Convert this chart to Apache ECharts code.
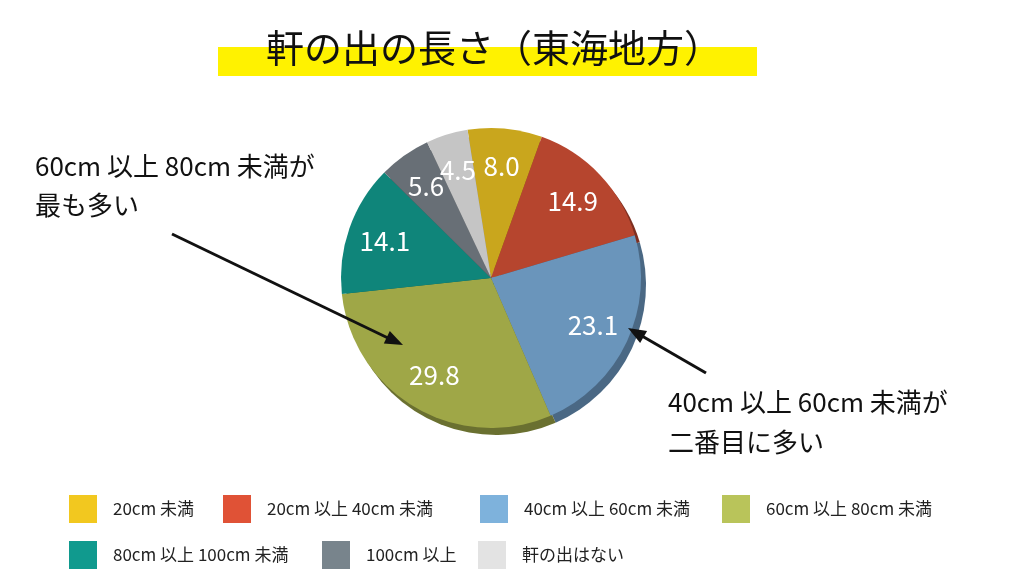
<!DOCTYPE html>
<html>
	<head>
		<meta charset="utf-8">
		<title>軒の出の長さ（東海地方）</title>
		<style>
			html,body{margin:0;padding:0;background:#fff;}
			#chart{width:1024px;height:586px;}
		</style>
	</head>
	<body>
		<div id="chart"></div>
		<script src="https://cdn.jsdelivr.net/npm/echarts@6/dist/echarts.min.js" type="text/javascript" charset="utf-8"></script>
		<script type="text/javascript">
			// データ
			var categories = ['20cm 未満','20cm 以上 40cm 未満','40cm 以上 60cm 未満','60cm 以上 80cm 未満','80cm 以上 100cm 未満','100cm 以上','軒の出はない'];
			var values = [8.0,14.9,23.1,29.8,14.1,5.6,4.5];
			var pieColors = ['#c9a61d','#b6452e','#6a95bb','#9fa747','#0f857a','#686f76','#c5c5c5'];
			var rimColors = ['#8a7214','#7d2f20','#4a6884','#6a7030','#0a5c54','#474c51','#8e8e8e'];
			var legendColors = ['#f2c81f','#e05236','#7eb2dc','#b9c45a','#109a8e','#78848c','#e3e3e3'];

			var FONT = '"Noto Sans CJK JP", sans-serif';
			var CENTER = [491,278], R = 150, START = 99;
			var myChart = echarts.init(document.getElementById('chart'));

			function buildData(colors){
				return categories.map(function(name,i){
					return {name:name,value:values[i],itemStyle:{color:colors[i]}};
				});
			}

			// ラベル位置（極座標：半径, 累積の中央）
			var total = values.reduce(function(a,b){return a + b;},0), acc = 0;
			var labelData = values.map(function(v){
				var mid = acc + v / 2;
				acc += v;
				return {value:[R * 0.75, mid], label:{formatter:v.toFixed(1)}};
			});

			// 凡例（2段）
			var legendPos = [[69,495],[223,495],[480,495],[722,495],[69,541],[322,541],[478,541]];
			var legends = categories.map(function(name,i){
				return {
					left: legendPos[i][0],
					top: legendPos[i][1],
					padding: 0,
					itemWidth: 28,
					itemHeight: 28,
					icon: 'rect',
					selectedMode: false,
					textStyle: {fontFamily:FONT,fontSize:17,color:'#222',padding:[0,0,0,11]},
					data: [{name:name,itemStyle:{color:legendColors[i]}}]
				};
			});

			var option = {
				backgroundColor: '#fff',
				animation: false,
				title: {
					text: '軒の出の長さ（東海地方）',
					left: 489,
					textAlign: 'center',
					top: 24,
					textStyle: {fontFamily:FONT,fontSize:38,fontWeight:'normal',color:'#111'}
				},
				legend: legends,
				polar: {center:CENTER,radius:R},
				angleAxis: {type:'value',min:0,max:total,startAngle:START,clockwise:true,show:false},
				radiusAxis: {type:'value',min:0,max:R,show:false},
				graphic: [
					{type:'rect',z:-1,shape:{x:218,y:47,width:539,height:29},style:{fill:'#fff200'}},
					{type:'text',left:35,top:147,style:{text:'60cm 以上 80cm 未満が\n最も多い',font:'26px ' + FONT,fill:'#111',lineHeight:39}},
					{type:'text',left:668,top:382,style:{text:'40cm 以上 60cm 未満が\n二番目に多い',font:'26px ' + FONT,fill:'#111',lineHeight:40}},
					// 矢印
					{type:'line',z:10,shape:{x1:172,y1:234,x2:388,y2:338},style:{stroke:'#111',lineWidth:3}},
					{type:'polygon',z:10,shape:{points:[[403,345],[383.8,343.5],[389.8,330.9]]},style:{fill:'#111'}},
					{type:'line',z:10,shape:{x1:706,y1:373,x2:642,y2:336},style:{stroke:'#111',lineWidth:3}},
					{type:'polygon',z:10,shape:{points:[[628,328],[647.1,330.9],[640.1,343.1]]},style:{fill:'#111'}}
				],
				series: [
					{
						// 立体風の縁
						type: 'pie',
						silent: true,
						center: [CENTER[0] + 5,CENTER[1] + 7],
						radius: [0,R],
						startAngle: START,
						label: {show:false},
						labelLine: {show:false},
						data: buildData(rimColors),
						z: 1
					},{
						type: 'pie',
						center: CENTER,
						radius: [0,R],
						startAngle: START,
						label: {show:false},
						labelLine: {show:false},
						emphasis: {disabled:true},
						data: buildData(pieColors),
						z: 2
					},{
						// ラベル
						type: 'scatter',
						coordinateSystem: 'polar',
						silent: true,
						symbolSize: 1,
						itemStyle: {color:'rgba(0,0,0,0)',opacity:1},
						label: {
							show: true,
							position: 'inside',
							fontFamily: FONT,
							fontSize: 26,
							color: '#fff',
							opacity: 1
						},
						data: labelData,
						z: 5
					}
				]
			};
			myChart.setOption(option);
		</script>
	</body>
</html>
